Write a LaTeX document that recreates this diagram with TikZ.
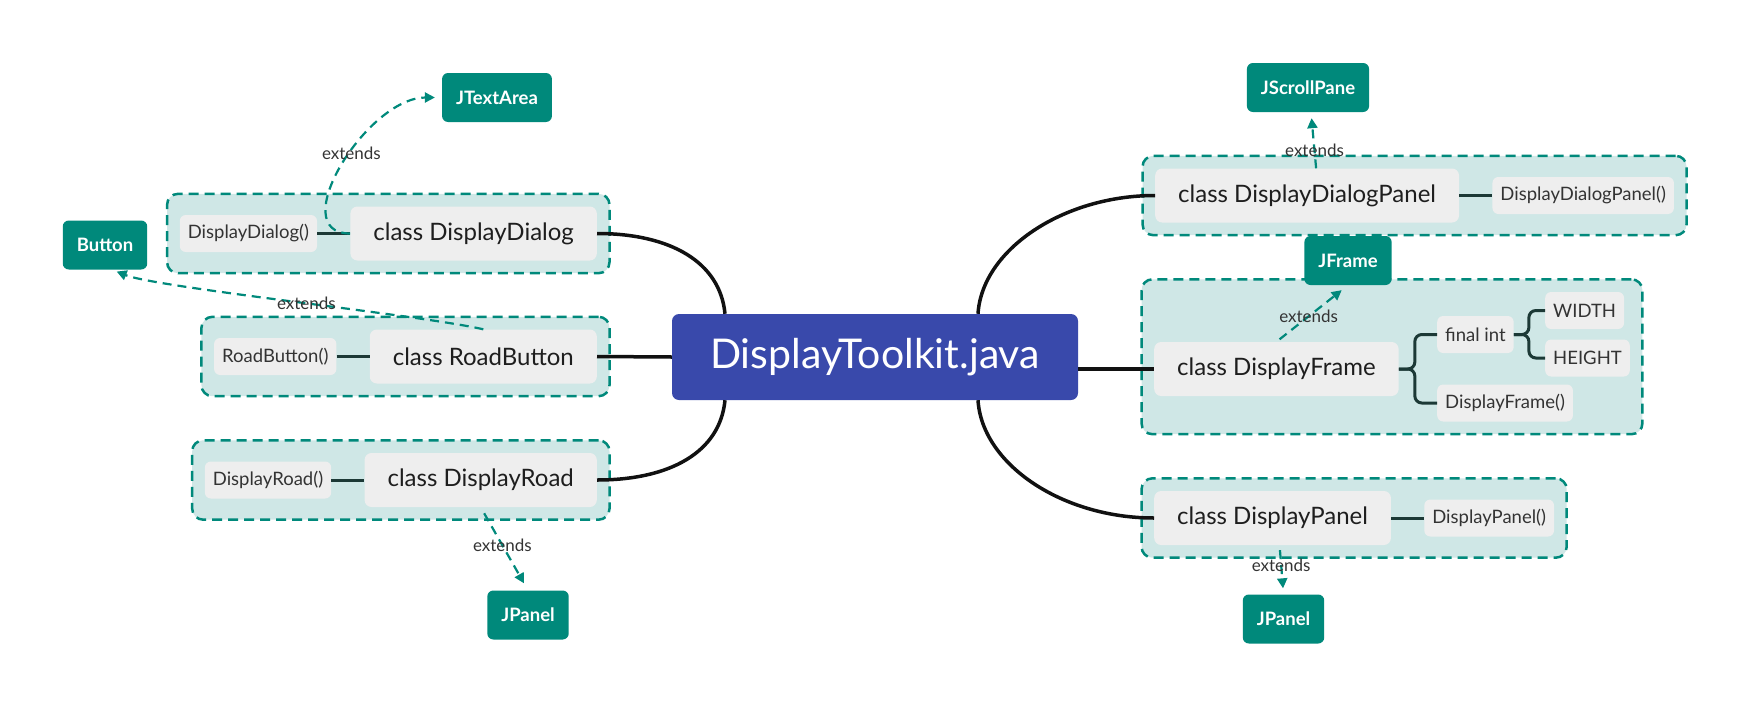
\documentclass[tikz,border=0pt]{standalone}
\usepackage{fontspec}
\setmainfont{Lato}
\definecolor{tealmain}{HTML}{00897B}
\definecolor{groupfill}{HTML}{CFE7E6}
\definecolor{nodegray}{HTML}{EEEEEE}
\definecolor{rootblue}{HTML}{3949AB}
\definecolor{textdark}{HTML}{1E1E1E}
\definecolor{textgray}{HTML}{333333}
\definecolor{linedark}{HTML}{111111}
\definecolor{memberdark}{HTML}{1C3936}
\usetikzlibrary{arrows.meta,positioning,fit,backgrounds}

\begin{document}
\begin{tikzpicture}[
  x=1pt, y=-1pt,
  rootnode/.style={rounded corners=7pt, fill=rootblue, text=white,
    font=\fontsize{41}{46}\selectfont, minimum width=406pt, minimum height=86pt},
  classnode/.style={rounded corners=7pt, fill=nodegray, text=textdark,
    font=\fontsize{24}{28}\selectfont, inner xsep=23pt, minimum height=54pt},
  membernode/.style={rounded corners=6pt, fill=nodegray, text=textgray,
    font=\fontsize{18.5}{22}\selectfont, inner xsep=8pt, minimum height=37pt},
  basenode/.style={rounded corners=6pt, fill=tealmain, text=white,
    font=\fontsize{18.5}{22}\selectfont\bfseries, inner xsep=14pt, minimum height=49pt},
  group/.style={rounded corners=11pt, draw=tealmain, fill=groupfill,
    line width=2.5pt, dash pattern=on 10pt off 6pt, inner sep=12.5pt},
  rootline/.style={line width=3.5pt, draw=linedark},
  memberline/.style={line width=3pt, draw=memberdark},
  extends/.style={-{Triangle[length=10pt,width=10pt]}, tealmain,
    line width=2.2pt, dash pattern=on 9pt off 6pt},
  extlabel/.style={font=\fontsize{17}{19}\selectfont, text=textgray}
]
  \useasboundingbox (0,0) rectangle (1753,707);

  % central file
  \node[rootnode] (root) at (875,357) {DisplayToolkit.java};

  % left classes
  \node[classnode, anchor=east] (dd) at (597,233.5) {class DisplayDialog};
  \node[membernode, left=33pt of dd] (ddm) {DisplayDialog()};
  \node[classnode, anchor=east] (rb) at (597,356.5) {class RoadButton};
  \node[membernode, left=33pt of rb] (rbm) {RoadButton()};
  \node[classnode, anchor=east] (dr) at (597,480) {class DisplayRoad};
  \node[membernode, left=33pt of dr] (drm) {DisplayRoad()};

  % right classes
  \node[classnode, anchor=west] (ddp) at (1155,195.5) {class DisplayDialogPanel};
  \node[membernode, right=33pt of ddp] (ddpm) {DisplayDialogPanel()};
  \node[classnode, anchor=west] (df) at (1154,369) {class DisplayFrame};
  \node[membernode, anchor=west] (fi) at (1437,334.5) {final int};
  \node[membernode, anchor=west] (wd) at (1545,310.5) {WIDTH};
  \node[membernode, anchor=west] (ht) at (1545,358) {HEIGHT};
  \node[membernode, anchor=west] (dfm) at (1437,403) {DisplayFrame()};
  \node[classnode, anchor=west] (dp) at (1154,518) {class DisplayPanel};
  \node[membernode, right=33pt of dp] (dpm) {DisplayPanel()};

  % dashed groups
  \begin{scope}[on background layer]
    \node[group, fit=(ddm)(dd)] (gdd) {};
    \node[group, fit=(rbm)(rb)] (grb) {};
    \node[group, fit=(drm)(dr)] (gdr) {};
    \node[group, fit=(ddp)(ddpm)] (gddp) {};
    \node[group, fit=(df)(wd)(ht)(dfm)] (gdf) {};
    \node[group, fit=(dp)(dpm)] (gdp) {};
  \end{scope}

  % super classes
  \node[basenode] (jta) at (497,97.5) {JTextArea};
  \node[basenode] (btn) at (105,245) {Button};
  \node[basenode] (jpl) at (528,615) {JPanel};
  \node[basenode] (jsp) at (1308,87.5) {JScrollPane};
  \node[basenode] (jf) at (1348,260.5) {JFrame};
  \node[basenode] (jpr) at (1283.5,619) {JPanel};

  % branches from the file
  \draw[rootline] ([xshift=-150pt]root.north) .. controls +(-5,-52) and +(73,0) .. (dd.east);
  \draw[rootline] (root.west) -- (rb.east);
  \draw[rootline] ([xshift=-150pt]root.south) .. controls +(-5,52) and +(73,0) .. (dr.east);
  \draw[rootline] ([xshift=103pt]root.north) .. controls +(4,-64) and +(-92,0) .. (ddp.west);
  \draw[rootline] (root.east |- df.west) -- (df.west);
  \draw[rootline] ([xshift=103pt]root.south) .. controls +(4,64) and +(-92,0) .. (dp.west);

  % members
  \draw[memberline] (ddm) -- (dd);
  \draw[memberline] (rbm) -- (rb);
  \draw[memberline] (drm) -- (dr);
  \draw[memberline] (ddp) -- (ddpm);
  \draw[memberline] (dp) -- (dpm);
  \draw[memberline, rounded corners=7pt] (df.east) -- ++(16,0) |- (fi.west);
  \draw[memberline, rounded corners=7pt] (df.east) -- ++(16,0) |- (dfm.west);
  \draw[memberline, rounded corners=7pt] (fi.east) -- ++(15,0) |- (wd.west);
  \draw[memberline, rounded corners=7pt] (fi.east) -- ++(15,0) |- (ht.west);

  % extends
  \draw[extends, shorten >=7pt] (dd.west) .. controls +(-67,0) and +(-75,0) .. (jta.west)
    node[extlabel, pos=0.56] (lbljta) {extends};
  \draw[extends, shorten >=5pt] (rb.north) .. controls +(-60,-14) and +(45,18) .. ([xshift=7pt]btn.south)
    node[extlabel, pos=0.47] (lblbtn) {extends};
  \draw[extends, shorten <=7pt, shorten >=8pt] (dr.south) -- (jpl.north)
    node[extlabel, pos=0.46] (lbljpl) {extends};
  \draw[extends, shorten >=6pt] ([xshift=9pt]ddp.north) -- ([xshift=3pt]jsp.south)
    node[extlabel, pos=0.32] (lbljsp) {extends};
  \draw[extends, shorten <=4pt, shorten >=8pt] (df.north) -- (jf.south)
    node[extlabel, pos=0.45] (lbljf) {extends};
  \draw[extends, shorten <=5pt, shorten >=6pt] ([xshift=7pt]dp.south) -- (jpr.north)
    node[extlabel, pos=0.4] (lbljpr) {extends};
\end{tikzpicture}
\end{document}
